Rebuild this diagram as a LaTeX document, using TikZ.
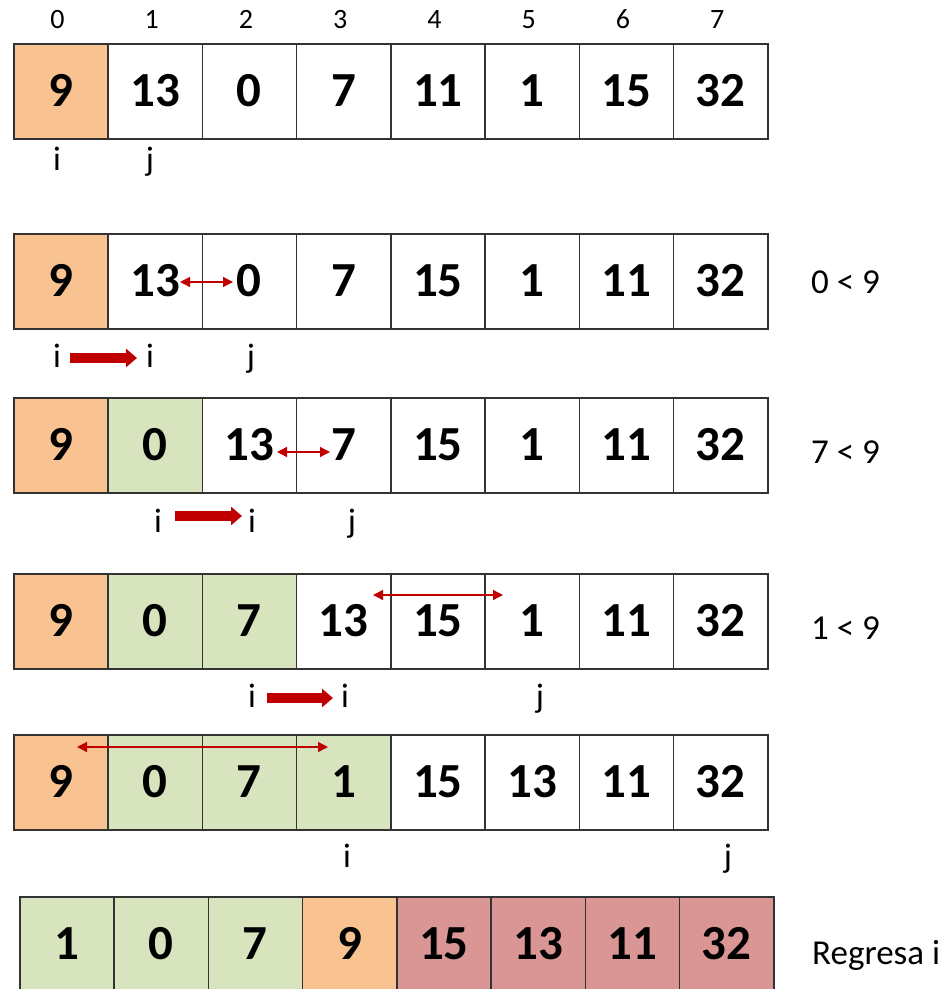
\documentclass[tikz,border=0pt]{standalone}
\usepackage{fontspec}
\setmainfont{Carlito}
\usetikzlibrary{arrows.meta}
\definecolor{orng}{HTML}{F8C391}
\definecolor{grn}{HTML}{D7E4BD}
\definecolor{rd}{HTML}{DA9694}
\definecolor{arrred}{HTML}{C00000}
\definecolor{bord}{HTML}{333333}
\newcommand\CellRow[4]{%
  \foreach \v/\f [count=\k from 0] in {#4} {%
    \node[cell,fill=\f] (#1c\k) at ({#2+94.25*\k},#3) {\v};}}
\begin{document}
\begin{tikzpicture}[x=1pt,y=-1pt,
  cell/.style={draw=bord, line width=1.5pt, minimum width=94.25pt, minimum height=95pt,
    inner sep=0pt, text height=31pt, text depth=0pt, anchor=north west,
    font=\fontsize{49}{49}\selectfont\bfseries},
  idx/.style={anchor=base, inner sep=0pt, font=\fontsize{28}{28}\selectfont},
  ptr/.style={anchor=base, inner sep=0pt, font=\fontsize{34}{34}\selectfont},
  cmp/.style={anchor=base west, inner sep=0pt, font=\fontsize{35}{35}\selectfont},
  swap/.style={draw=arrred, line width=1.3pt, {Triangle[length=10pt,width=10pt]}-{Triangle[length=10pt,width=10pt]}},
  move/.style={draw=arrred, line width=10.5pt, -{Triangle[length=11pt,width=18pt]}}]
\useasboundingbox (0,0) rectangle (950,989);
% row 1
\CellRow{ra}{13}{43}{9/orng,13/white,0/white,7/white,11/white,1/white,15/white,32/white}
\foreach \k in {0,...,7} \node[idx] (ix\k) at ({57.5+94.25*\k},28) {\k};
\node[ptr] (ai) at (57,170) {i};
\node[ptr] (aj) at (150,170) {j};
% row 2
\CellRow{rb}{13}{233}{9/orng,13/white,0/white,7/white,15/white,1/white,11/white,32/white}
\coordinate (sb1) at (180,282); \coordinate (sb2) at (233,282);
\draw[swap] (sb1) -- (sb2);
\node[ptr] (bi1) at (57,367) {i};
\node[ptr] (bi2) at (150,367) {i};
\node[ptr] (bj) at (251,367) {j};
\coordinate (mb1) at (70,358); \coordinate (mb2) at (137,358);
\draw[move] (mb1) -- (mb2);
\node[cmp] (cb) at (811,293) {0 < 9};
% row 3
\CellRow{rc}{13}{397}{9/orng,0/grn,13/white,7/white,15/white,1/white,11/white,32/white}
\coordinate (sc1) at (277,452); \coordinate (sc2) at (330,452);
\draw[swap] (sc1) -- (sc2);
\node[ptr] (ci1) at (158,532) {i};
\node[ptr] (ci2) at (252,532) {i};
\node[ptr] (cj) at (352,532) {j};
\coordinate (mc1) at (175,516); \coordinate (mc2) at (242,516);
\draw[move] (mc1) -- (mc2);
\node[cmp] (cc) at (811,463) {7 < 9};
% row 4
\CellRow{rd}{13}{573}{9/orng,0/grn,7/grn,13/white,15/white,1/white,11/white,32/white}
\coordinate (sd1) at (373,595); \coordinate (sd2) at (503,595);
\draw[swap] (sd1) -- (sd2);
\node[ptr] (di1) at (252,707) {i};
\node[ptr] (di2) at (345,707) {i};
\node[ptr] (dj) at (540,707) {j};
\coordinate (md1) at (267,698); \coordinate (md2) at (333,698);
\draw[move] (md1) -- (md2);
\node[cmp] (cd) at (811,639) {1 < 9};
% row 5
\CellRow{re}{13}{734}{9/orng,0/grn,7/grn,1/grn,15/white,13/white,11/white,32/white}
\coordinate (se1) at (77,747); \coordinate (se2) at (328,747);
\draw[swap] (se1) -- (se2);
\node[ptr] (ei) at (347,867) {i};
\node[ptr] (ej) at (728,867) {j};
% row 6
\CellRow{rf}{19}{896}{1/grn,0/grn,7/grn,9/orng,15/rd,13/rd,11/rd,32/rd}
\node[cmp] (res) at (812,964) {Regresa i};
\end{tikzpicture}
\end{document}
